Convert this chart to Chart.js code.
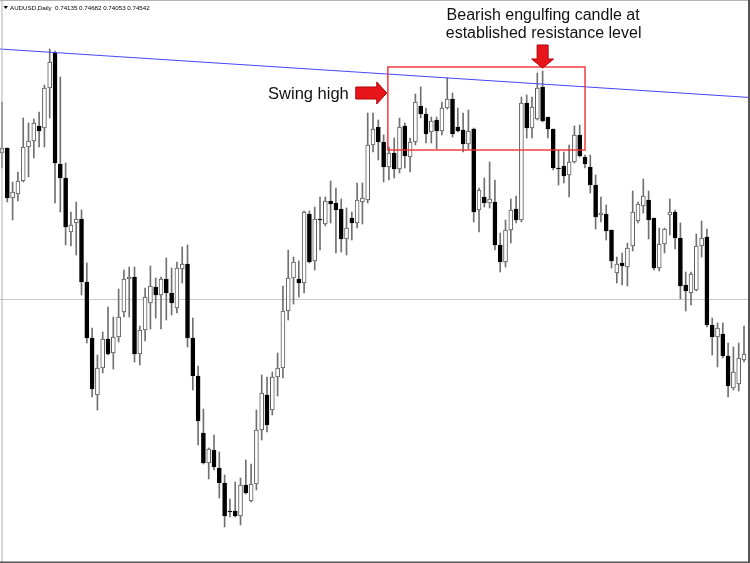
<!DOCTYPE html>
<html>
<head>
<meta charset="utf-8">
<script src="https://cdn.jsdelivr.net/npm/chart.js@4.4.1/dist/chart.umd.min.js"></script>
<style>
    html, body { margin: 0; padding: 0; background: #fff; }
    #priceChartContainer { width: 750px; height: 563px; }
</style>
</head>
<body>
<div id="priceChartContainer"></div>
<script>
const symbolLabel = 'AUDUSD,Daily';
const lastQuote = ['0.74135', '0.74682', '0.74053', '0.74542'];

// daily candles, oldest first
const opens = [
    0.947, 0.952, 0.902, 0.906, 0.919, 0.953, 0.959, 0.974, 0.972, 1.012,
    1.047, 0.936, 0.922, 0.868, 0.877, 0.881, 0.818, 0.762, 0.705, 0.732,
    0.761, 0.747, 0.763, 0.788, 0.821, 0.823, 0.746, 0.770, 0.797, 0.813,
    0.805, 0.821, 0.807, 0.792, 0.831, 0.836, 0.762, 0.724, 0.667, 0.637,
    0.650, 0.632, 0.617, 0.589, 0.589, 0.584, 0.615, 0.599, 0.616, 0.670,
    0.705, 0.690, 0.723, 0.732, 0.789, 0.822, 0.821, 0.817, 0.886, 0.839,
    0.881, 0.876, 0.899, 0.897, 0.891, 0.861, 0.882, 0.877, 0.898, 0.900,
    0.955, 0.973, 0.958, 0.933, 0.947, 0.931, 0.974, 0.943, 0.958, 0.994,
    0.986, 0.968, 0.980, 0.969, 0.992, 1.001, 0.973, 0.970, 0.956, 0.971,
    0.890, 0.903, 0.897, 0.898, 0.855, 0.838, 0.870, 0.891, 0.880, 0.997,
    0.972, 0.981, 1.013, 0.983, 0.971, 0.932, 0.934, 0.925, 0.938, 0.965,
    0.943, 0.933, 0.915, 0.885, 0.886, 0.870, 0.827, 0.837, 0.833, 0.854,
    0.879, 0.894, 0.900, 0.882, 0.832, 0.856, 0.885, 0.888, 0.862, 0.815,
    0.807, 0.810, 0.854, 0.863, 0.775, 0.763, 0.766, 0.744, 0.712, 0.716,
    0.740,
];
const highs = [
    0.998, 0.952, 0.918, 0.928, 0.982, 0.977, 0.981, 0.988, 1.015, 1.051,
    1.049, 1.023, 0.937, 0.888, 0.898, 0.890, 0.837, 0.772, 0.745, 0.768,
    0.793, 0.783, 0.811, 0.830, 0.833, 0.833, 0.774, 0.812, 0.834, 0.822,
    0.823, 0.842, 0.832, 0.838, 0.853, 0.855, 0.782, 0.734, 0.691, 0.652,
    0.665, 0.648, 0.625, 0.601, 0.618, 0.622, 0.640, 0.636, 0.690, 0.725,
    0.723, 0.728, 0.747, 0.814, 0.850, 0.843, 0.839, 0.889, 0.889, 0.893,
    0.903, 0.903, 0.919, 0.912, 0.901, 0.892, 0.888, 0.917, 0.917, 0.987,
    0.987, 0.980, 0.965, 0.953, 0.962, 0.982, 0.977, 0.962, 1.006, 1.013,
    0.992, 0.983, 0.983, 0.998, 1.022, 1.007, 0.992, 0.987, 0.990, 0.972,
    0.912, 0.922, 0.938, 0.920, 0.867, 0.880, 0.901, 0.904, 1.003, 1.005,
    1.003, 1.027, 1.029, 0.983, 0.971, 0.950, 0.948, 0.955, 0.974, 0.975,
    0.945, 0.945, 0.925, 0.903, 0.895, 0.870, 0.843, 0.847, 0.857, 0.909,
    0.898, 0.921, 0.909, 0.882, 0.872, 0.872, 0.901, 0.890, 0.877, 0.828,
    0.828, 0.866, 0.879, 0.871, 0.782, 0.777, 0.777, 0.757, 0.753, 0.757,
    0.774,
];
const lows = [
    0.932, 0.898, 0.880, 0.899, 0.918, 0.923, 0.942, 0.953, 0.953, 0.982,
    0.897, 0.888, 0.855, 0.854, 0.845, 0.805, 0.757, 0.703, 0.690, 0.727,
    0.745, 0.731, 0.758, 0.783, 0.783, 0.738, 0.735, 0.759, 0.771, 0.782,
    0.771, 0.780, 0.785, 0.787, 0.817, 0.753, 0.710, 0.655, 0.636, 0.621,
    0.630, 0.602, 0.573, 0.583, 0.583, 0.575, 0.606, 0.598, 0.610, 0.660,
    0.668, 0.685, 0.704, 0.722, 0.780, 0.796, 0.803, 0.807, 0.837, 0.830,
    0.850, 0.874, 0.877, 0.847, 0.848, 0.845, 0.860, 0.872, 0.876, 0.897,
    0.948, 0.940, 0.918, 0.920, 0.922, 0.927, 0.932, 0.928, 0.955, 0.982,
    0.957, 0.957, 0.951, 0.965, 0.991, 0.963, 0.968, 0.948, 0.951, 0.878,
    0.868, 0.893, 0.892, 0.850, 0.828, 0.833, 0.857, 0.877, 0.878, 0.962,
    0.962, 0.980, 0.978, 0.962, 0.930, 0.915, 0.917, 0.903, 0.937, 0.943,
    0.932, 0.907, 0.871, 0.878, 0.860, 0.832, 0.817, 0.815, 0.814, 0.849,
    0.877, 0.887, 0.861, 0.830, 0.829, 0.847, 0.865, 0.851, 0.801, 0.789,
    0.795, 0.809, 0.843, 0.773, 0.745, 0.733, 0.742, 0.703, 0.710, 0.709,
    0.738,
];
const closes = [
    0.952, 0.902, 0.908, 0.919, 0.953, 0.959, 0.977, 0.969, 1.012, 1.038,
    0.937, 0.922, 0.873, 0.875, 0.881, 0.818, 0.762, 0.711, 0.732, 0.761,
    0.746, 0.763, 0.783, 0.821, 0.823, 0.746, 0.770, 0.803, 0.814, 0.805,
    0.821, 0.807, 0.797, 0.832, 0.836, 0.762, 0.724, 0.679, 0.637, 0.651,
    0.633, 0.617, 0.584, 0.588, 0.584, 0.615, 0.607, 0.616, 0.670, 0.707,
    0.675, 0.723, 0.732, 0.789, 0.822, 0.838, 0.817, 0.888, 0.838, 0.881,
    0.880, 0.899, 0.896, 0.890, 0.861, 0.872, 0.877, 0.900, 0.902, 0.955,
    0.971, 0.958, 0.933, 0.947, 0.931, 0.973, 0.944, 0.958, 0.998, 0.986,
    0.966, 0.979, 0.969, 0.992, 1.001, 0.966, 0.969, 0.956, 0.969, 0.888,
    0.910, 0.897, 0.901, 0.855, 0.838, 0.870, 0.890, 0.880, 0.997, 0.972,
    0.993, 1.012, 0.979, 0.971, 0.932, 0.931, 0.924, 0.938, 0.965, 0.944,
    0.936, 0.915, 0.883, 0.887, 0.869, 0.839, 0.836, 0.834, 0.852, 0.888,
    0.896, 0.904, 0.880, 0.832, 0.856, 0.871, 0.888, 0.862, 0.814, 0.809,
    0.826, 0.854, 0.862, 0.775, 0.763, 0.772, 0.744, 0.714, 0.728, 0.742,
    0.746,
];

// drawn objects, in (candle index, price)
const supportLevel = 0.801;
const trendLine = [[-0.38, 1.051], [141.13, 1.0025]];
const resistanceBox = [72.8, 1.033, 110.0, 0.950];
const engulfingIndex = 102;
const swingHighAnchor = [72.6, 1.007];

const days = opens.map((o, i) => i);
const wicks = lows.map((l, i) => [l, highs[i]]);
const bodies = opens.map((o, i) => [Math.min(o, closes[i]), Math.max(o, closes[i])]);
const bodyColors = opens.map((o, i) => (closes[i] >= o ? '#ffffff' : '#000000'));
const bodyBorders = opens.map((o, i) => (closes[i] >= o ? '#5a5a5a' : '#000000'));

/**
 *
 * @param {object} ctx canvas context
 * @param {array} pts array of [x, y] pixel points
 */
const fillShape = (ctx, pts) => {
    ctx.beginPath();
    pts.forEach((p, i) => (i === 0 ? ctx.moveTo(p[0], p[1]) : ctx.lineTo(p[0], p[1])));
    ctx.closePath();
    ctx.fillStyle = '#e8161b';
    ctx.fill();
    ctx.strokeStyle = '#b00008';
    ctx.lineWidth = 1;
    ctx.stroke();
};

const markupPlugin = {
    id: 'markup',
    beforeDatasetsDraw(chart) {
        const ctx = chart.ctx;
        const y = Math.round(chart.scales.y.getPixelForValue(supportLevel)) + 0.5;
        ctx.save();
        ctx.strokeStyle = '#c8c8c8';
        ctx.lineWidth = 1;
        ctx.beginPath();
        ctx.moveTo(chart.chartArea.left, y);
        ctx.lineTo(chart.chartArea.right, y);
        ctx.stroke();
        ctx.restore();
    },
    afterDatasetsDraw(chart) {
        const ctx = chart.ctx;
        const xs = chart.scales.x;
        const ys = chart.scales.y;
        ctx.save();
        // trend line
        ctx.strokeStyle = '#4646ff';
        ctx.lineWidth = 1;
        ctx.beginPath();
        ctx.moveTo(xs.getPixelForValue(trendLine[0][0]), ys.getPixelForValue(trendLine[0][1]));
        ctx.lineTo(xs.getPixelForValue(trendLine[1][0]), ys.getPixelForValue(trendLine[1][1]));
        ctx.stroke();
        // resistance zone
        const bx1 = xs.getPixelForValue(resistanceBox[0]);
        const by1 = ys.getPixelForValue(resistanceBox[1]);
        const bx2 = xs.getPixelForValue(resistanceBox[2]);
        const by2 = ys.getPixelForValue(resistanceBox[3]);
        ctx.strokeStyle = 'rgba(240,40,45,0.9)';
        ctx.lineWidth = 1.5;
        ctx.strokeRect(bx1, by1, bx2 - bx1, by2 - by1);
        // arrow pointing down at the engulfing candle
        const ax = xs.getPixelForValue(engulfingIndex);
        const ay = ys.getPixelForValue(highs[engulfingIndex]) - 3;
        fillShape(ctx, [
            [ax - 5.5, ay - 23], [ax + 5.5, ay - 23], [ax + 5.5, ay - 9], [ax + 11, ay - 9],
            [ax, ay], [ax - 11, ay - 9], [ax - 5.5, ay - 9],
        ]);
        // arrow pointing at the swing high
        const sx = xs.getPixelForValue(swingHighAnchor[0]);
        const sy = ys.getPixelForValue(swingHighAnchor[1]);
        fillShape(ctx, [
            [sx - 31, sy - 6], [sx - 10, sy - 6], [sx - 10, sy - 11], [sx, sy],
            [sx - 10, sy + 11], [sx - 10, sy + 6], [sx - 31, sy + 6],
        ]);
        ctx.restore();
    },
    afterDraw(chart) {
        const ctx = chart.ctx;
        const xs = chart.scales.x;
        const ys = chart.scales.y;
        ctx.save();
        ctx.fillStyle = '#111';
        ctx.font = '16px "Liberation Sans", Arial, sans-serif';
        ctx.textBaseline = 'alphabetic';
        ctx.textAlign = 'center';
        const tx = xs.getPixelForValue(engulfingIndex);
        ctx.fillText('Bearish engulfing candle at', tx + 0.5, 19.5);
        ctx.fillText('established resistance level', tx + 1, 37.5);
        ctx.textAlign = 'right';
        ctx.font = '16.5px "Liberation Sans", Arial, sans-serif';
        ctx.fillText('Swing high', xs.getPixelForValue(swingHighAnchor[0]) - 38, ys.getPixelForValue(swingHighAnchor[1]) + 6);

        // symbol header
        ctx.fillStyle = '#000';
        ctx.beginPath();
        ctx.moveTo(3.5, 6);
        ctx.lineTo(8, 6);
        ctx.lineTo(5.75, 9);
        ctx.closePath();
        ctx.fill();
        ctx.textAlign = 'left';
        ctx.font = '6.2px "Liberation Sans", Arial, sans-serif';
        ctx.fillText(symbolLabel + '  ' + lastQuote.join(' '), 10, 10);

        // window frame
        ctx.fillStyle = '#b4b4b4';
        ctx.fillRect(0, 0, 750, 1);
        ctx.fillRect(1.5, 0, 1, 563);
        ctx.fillStyle = '#555';
        ctx.fillRect(748, 0, 2, 563);
        ctx.fillRect(0, 561.5, 750, 1.5);
        ctx.restore();
    },
};

const generatePriceChart = () => {
    if (document.getElementById('priceChart') != undefined) {
        document.getElementById('priceChart').remove();
    }
    const ctx = document.createElement('canvas');
    ctx.setAttribute('id', 'priceChart');
    ctx.width = 750;
    ctx.height = 563;
    document.getElementById('priceChartContainer').appendChild(ctx);
    const myChart = new Chart(ctx, {
        type: 'bar',
        data: {
            labels: days,
            datasets: [
                {
                    label: 'Range',
                    data: wicks,
                    backgroundColor: '#707070',
                    borderWidth: 0,
                    barThickness: 1,
                    grouped: false,
                    order: 2,
                },
                {
                    label: 'Body',
                    data: bodies,
                    backgroundColor: bodyColors,
                    borderColor: bodyBorders,
                    borderWidth: 1,
                    borderSkipped: false,
                    barThickness: 4,
                    grouped: false,
                    order: 1,
                },
            ],
        },
        options: {
            responsive: false,
            animation: false,
            layout: { padding: 0 },
            plugins: {
                legend: { display: false },
                tooltip: { enabled: false },
            },
            scales: {
                x: {
                    type: 'linear',
                    min: -0.38,
                    max: 141.13,
                    offset: false,
                    display: false,
                },
                y: {
                    min: 0.537,
                    max: 1.1,
                    display: false,
                },
            },
        },
        plugins: [markupPlugin],
    });
};

generatePriceChart();
</script>
</body>
</html>
